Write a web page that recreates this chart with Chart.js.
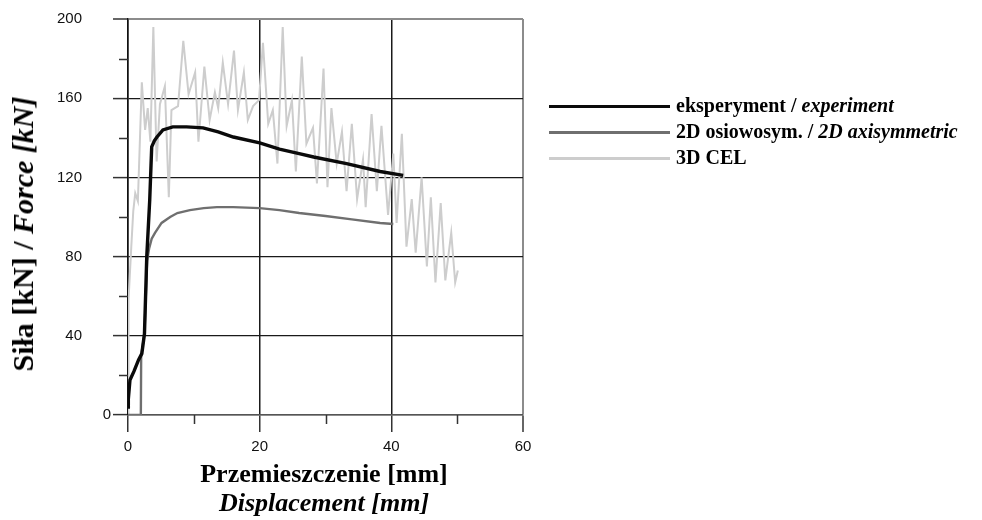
<!DOCTYPE html>
<html>
<head>
<meta charset="utf-8">
<script src="https://cdn.jsdelivr.net/npm/chart.js@4.4.1/dist/chart.umd.min.js"></script>
<style>
  body { margin: 0; background: #fff; }
  #wrap { position: relative; width: 982px; height: 520px; font-family: 'Liberation Serif', 'Times New Roman', serif; font-weight: bold; color: #000; }
  #chart { position: absolute; left: 0; top: 0; }
  .ttl { position: absolute; white-space: nowrap; line-height: 1; }
  .it { font-style: italic; }
  .leg { position: absolute; left: 549px; font-size: 20px; white-space: nowrap; line-height: 1; transform: translateY(-50%); }
  .leg span.ln { display: inline-block; width: 121px; height: 3px; vertical-align: middle; margin-right: 6px; position: relative; top: -1px; }
</style>
</head>
<body>
<div id="wrap">
  <canvas id="chart" width="982" height="520"></canvas>
  <div class="ttl" style="left:23px; top:234px; font-size:30px; transform:translate(-50%,-50%) rotate(-90deg);">Siła [kN] / <span class="it">Force [kN]</span></div>
  <div class="ttl" style="left:324px; top:474px; font-size:26px; transform:translate(-50%,-50%);">Przemieszczenie [mm]</div>
  <div class="ttl it" style="left:324px; top:503px; font-size:26px; transform:translate(-50%,-50%);">Displacement [mm]</div>
  <div id="legenda"></div>
</div>
<script>
/* datos: przemieszczenie [mm] / siła [kN] */
const eksperymentX = [0, 0.05, 0.3, 0.9, 1.6, 2.1, 2.5, 2.85, 3.3, 3.6, 4.0, 4.4, 5.3, 6.8, 8.9, 11.4, 13.7, 16.0, 20.0, 23.0, 26.0, 28.2, 33.2, 38.3, 41.8]
const eksperymentY = [4, 8, 17.7, 22, 27.8, 31, 41, 80, 108.6, 135.4, 138.5, 140.4, 144, 145.5, 145.5, 145, 143, 140.4, 137.4, 134.3, 132, 130.3, 127, 123, 121]

const osiowosymX = [0, 1.95, 2.0, 2.5, 2.9, 3.2, 3.6, 4.1, 5.1, 6.4, 7.5, 9.4, 11.5, 13.5, 16.0, 20.0, 23.0, 26.0, 30.0, 34.0, 38.3, 40.3]
const osiowosymY = [0, 0, 30, 41, 78, 84, 89, 92, 97, 100, 102, 103.5, 104.5, 105, 105, 104.5, 103.5, 102, 100.5, 98.8, 97, 96.5]

const celX = [0, 0.05, 0.1, 0.5, 0.8, 1.1, 1.5, 2.1, 2.6, 3.0, 3.4, 3.85, 4.35, 4.85, 5.6, 6.2, 6.6, 7.6, 8.4, 9.2, 10.2, 10.7, 11.6, 12.4, 13.2, 13.7, 14.4, 15.2, 16.1, 16.7, 17.6, 18.2, 19.0, 19.9, 20.5, 21.3, 22.0, 22.7, 23.5, 24.1, 24.9, 25.5, 26.4, 27.1, 28.1, 28.7, 29.7, 30.3, 30.9, 31.7, 32.5, 33.2, 34.0, 34.8, 35.7, 36.1, 37.0, 37.8, 38.5, 39.5, 40.3, 40.8, 41.6, 42.3, 43.1, 43.7, 44.6, 45.4, 46.0, 46.7, 47.5, 48.2, 49.1, 49.7, 50.1]
const celY = [0, 30, 58, 85, 103, 112, 108, 168, 144, 155, 138, 196, 128, 157, 166, 110, 154, 156, 189, 162, 173, 138, 176, 149, 163, 155, 178, 157, 184, 154, 173, 149, 156, 159, 188, 147, 154, 127, 196, 146, 159, 123, 181, 137, 145, 117, 175, 115, 155, 127, 143, 113, 147, 109, 129, 105, 152, 113, 146, 101, 132, 97, 142, 85, 109, 82, 120, 75, 110, 67, 107, 68, 92, 67, 73]

const etykiety = ['eksperyment / ', '2D osiowosym. / ', '3D CEL']
const etykietyEn = ['experiment', '2D axisymmetric', '']
const kolory = ['#0a0a0a', '#6f6f6f', '#cdcdcd']
const grubosci = [3.4, 2.4, 2]

const podzialkiX = [10, 30, 50]
const podzialkiY = [20, 60, 100, 140, 180]

const czcionkaOsi = { family: "'Liberation Sans', Arial, sans-serif", size: 15 }

const punkty = (xs, ys) => xs.map((x, i) => ({ x: x, y: ys[i] }))
const serie = [punkty(eksperymentX, eksperymentY), punkty(osiowosymX, osiowosymY), punkty(celX, celY)]

/* leyenda en html para mezclar negrita y cursiva */
const legenda = document.getElementById('legenda')
etykiety.forEach((txt, i) => {
    const div = document.createElement('div')
    div.className = 'leg'
    div.style.top = (105 + i * 26) + 'px'
    div.innerHTML = `<span class="ln" style="background:${kolory[i]}"></span>${txt}<span class="it">${etykietyEn[i]}</span>`
    legenda.appendChild(div)
})

/* krotkie podzialki + etykieta "0" tuz przy osi */
const dodatki = {
    id: 'dodatki',
    afterDraw(chart) {
        const { ctx, scales: { x, y } } = chart
        ctx.save()
        ctx.strokeStyle = '#333'
        ctx.lineWidth = 1.5
        ctx.beginPath()
        podzialkiX.forEach(v => {
            const px = Math.round(x.getPixelForValue(v)) + 0.5
            ctx.moveTo(px, y.bottom)
            ctx.lineTo(px, y.bottom + 9)
        })
        podzialkiY.forEach(v => {
            const py = Math.round(y.getPixelForValue(v)) + 0.5
            ctx.moveTo(x.left - 9, py)
            ctx.lineTo(x.left, py)
        })
        ctx.stroke()
        ctx.fillStyle = '#111'
        ctx.font = `${czcionkaOsi.size}px ${czcionkaOsi.family}`
        ctx.textAlign = 'right'
        ctx.textBaseline = 'middle'
        ctx.fillText('0', x.left - 17, y.getPixelForValue(0))
        ctx.restore()
    }
}

new Chart(document.getElementById('chart'), {
    type: 'scatter',
    data: {
        datasets: serie.map((dane, i) => ({
            data: dane,
            showLine: true,
            borderColor: kolory[i],
            borderWidth: grubosci[i],
            pointRadius: 0,
            tension: 0,
            fill: false
        }))
    },
    options: {
        responsive: false,
        animation: false,
        layout: { padding: { top: 19, right: 459, left: 0, bottom: 0 } },
        plugins: { legend: { display: false }, tooltip: { enabled: false } },
        scales: {
            x: {
                type: 'linear', min: 0, max: 60,
                ticks: { stepSize: 20, padding: 6, color: '#111', font: czcionkaOsi },
                grid: {
                    color: c => c.tick && c.tick.value === 60 ? '#8c8c8c' : '#1a1a1a',
                    lineWidth: c => c.tick && c.tick.value === 60 ? 2 : 1.5,
                    tickLength: 17, tickColor: '#333', tickWidth: 1.5
                },
                border: { color: '#555', width: 1.5 },
                afterFit: s => { s.height = 105 }
            },
            y: {
                min: 0, max: 200,
                ticks: {
                    stepSize: 40, padding: 31, color: '#111', font: czcionkaOsi,
                    callback: v => v === 0 ? '' : v
                },
                grid: {
                    color: c => c.tick && c.tick.value === 200 ? '#8c8c8c' : '#1a1a1a',
                    lineWidth: c => c.tick && c.tick.value === 200 ? 2 : 1.2,
                    tickLength: 15, tickColor: '#333', tickWidth: 1.5
                },
                border: { color: '#111', width: 1.5 },
                afterFit: s => {
                    s.width = 128
                    s.paddingTop = 0
                    s.paddingBottom = 0
                }
            }
        }
    },
    plugins: [dodatki]
})
</script>
</body>
</html>
